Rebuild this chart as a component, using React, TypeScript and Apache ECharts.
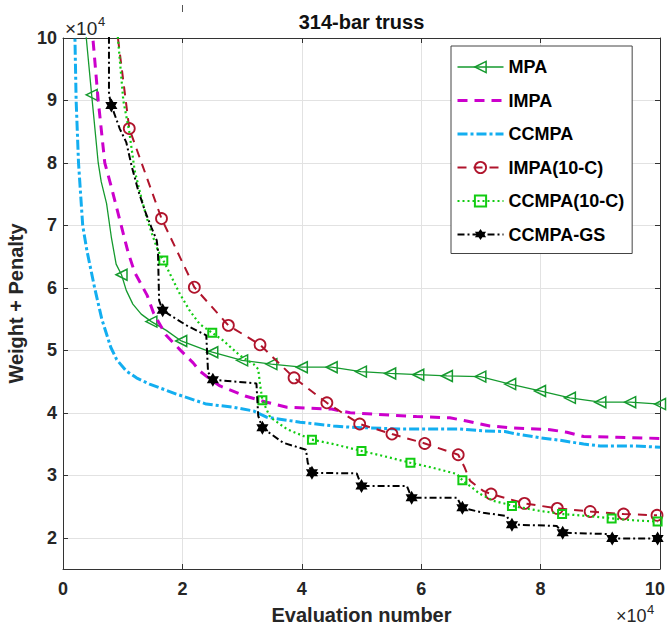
import React, { useEffect, useRef } from 'react';
import * as echarts from 'echarts';

const TITLE = '314-bar truss';
const X_NAME = 'Evaluation number';
const Y_NAME = 'Weight + Penalty';
const NAMES = ['MPA', 'IMPA', 'CCMPA', 'IMPA(10-C)', 'CCMPA(10-C)', 'CCMPA-GS'];
const COLORS = ['#159a2e', '#cc00cc', '#13aef0', '#b0142c', '#12cc12', '#000000'];

// values in units of 1e4 (as displayed on the axes)
// MPA
const mpaPathX = [0.37, 0.39, 0.59, 0.64, 0.73, 0.81, 0.89, 1.06, 1.17, 1.31, 1.73, 2.4];
const mpaPathY = [10.5, 10.0, 8.0, 7.7, 7.35, 6.81, 6.38, 5.96, 5.74, 5.58, 5.32, 5.0];
const mpaMarkX = [0.48, 0.98, 1.48, 1.98, 2.5, 3.0, 3.49, 4.0, 4.5, 4.99, 5.48, 5.95, 6.43, 6.99, 7.49, 7.99, 8.49, 9.0, 9.5, 10.0];
const mpaMarkY = [9.09, 6.21, 5.46, 5.15, 4.97, 4.84, 4.78, 4.73, 4.73, 4.66, 4.63, 4.61, 4.59, 4.58, 4.46, 4.35, 4.24, 4.17, 4.17, 4.14];

// IMPA
const impaX = [0.49, 0.5, 0.59, 0.7, 0.8, 0.94, 1.09, 1.2, 1.41, 1.52, 1.72, 1.97, 2.18, 2.29, 2.45, 2.63, 3.05, 3.41, 3.75, 4.5, 4.81, 5.92, 6.48, 6.76, 7.15, 7.49, 8.16, 8.44, 8.72, 9.28, 10.0];
const impaY = [10.5, 10.0, 9.0, 8.0, 7.65, 7.13, 6.57, 6.25, 5.88, 5.59, 5.25, 5.0, 4.8, 4.67, 4.55, 4.43, 4.27, 4.17, 4.09, 4.06, 4.0, 3.94, 3.92, 3.87, 3.79, 3.76, 3.73, 3.69, 3.62, 3.61, 3.59];

// CCMPA
const ccX = [0.19, 0.2, 0.22, 0.26, 0.33, 0.4, 0.53, 0.65, 0.8, 0.9, 1.06, 1.23, 1.45, 1.9, 2.4, 2.85, 3.19, 3.41, 3.97, 4.53, 4.81, 5.64, 6.65, 7.04, 7.4, 7.6, 8.0, 8.33, 8.72, 9.0, 9.56, 10.0];
const ccY = [10.5, 10.0, 9.0, 8.0, 7.0, 6.6, 6.0, 5.5, 5.05, 4.85, 4.67, 4.56, 4.46, 4.3, 4.14, 4.09, 4.03, 3.93, 3.85, 3.79, 3.77, 3.74, 3.74, 3.71, 3.7, 3.66, 3.6, 3.56, 3.5, 3.47, 3.47, 3.45];

// IMPA(10-C)
const i10PathX = [0.89, 0.92, 6.73, 6.82, 7.04];
const i10PathY = [10.5, 10.0, 3.12, 2.91, 2.75];
const i10MarkX = [1.11, 1.65, 2.2, 2.77, 3.3, 3.87, 4.42, 4.97, 5.51, 6.06, 6.62, 7.17, 7.73, 8.28, 8.83, 9.39, 9.95];
const i10MarkY = [8.55, 7.11, 6.01, 5.4, 5.09, 4.56, 4.16, 3.82, 3.66, 3.51, 3.33, 2.7, 2.55, 2.47, 2.42, 2.38, 2.36];

// CCMPA(10-C)
const c10PathX = [0.9, 0.92, 1.01, 1.11, 1.2, 1.31, 1.4, 1.51, 1.59, 1.82, 1.96, 2.12, 2.29, 2.68, 2.96, 3.19, 3.27, 3.3, 3.47, 3.75, 4.53, 5.36, 6.2, 6.6, 6.99, 7.21, 7.43, 7.99, 8.77, 9.55];
const c10PathY = [10.5, 10.0, 9.0, 8.5, 7.88, 7.45, 7.13, 6.81, 6.6, 6.17, 5.9, 5.64, 5.42, 5.16, 4.92, 4.78, 4.7, 4.46, 3.93, 3.74, 3.5, 3.31, 3.12, 3.02, 2.7, 2.59, 2.54, 2.43, 2.35, 2.28];
const c10MarkX = [1.68, 2.5, 3.34, 4.17, 5.0, 5.82, 6.69, 7.52, 8.36, 9.19, 9.96];
const c10MarkY = [6.44, 5.28, 4.2, 3.57, 3.39, 3.2, 2.92, 2.51, 2.38, 2.31, 2.26];

// CCMPA-GS
const gsPathX = [0.77, 0.77, 0.95, 1.06, 1.15, 1.26, 1.37, 1.48, 1.57, 1.59, 1.61, 1.9, 2.07, 2.4, 2.43, 3.24, 3.27, 3.69, 4.07, 4.1, 4.92, 5.76, 6.6, 7.04, 7.43, 8.27, 9.11];
const gsPathY = [10.5, 9.1, 8.55, 8.33, 7.95, 7.56, 7.24, 6.97, 6.76, 6.6, 5.8, 5.5, 5.4, 5.24, 4.65, 4.47, 3.95, 3.52, 3.41, 3.2, 3.03, 2.83, 2.64, 2.4, 2.35, 2.19, 2.06];
const gsMarkX = [0.81, 1.67, 2.51, 3.34, 4.17, 5.0, 5.84, 6.69, 7.52, 8.37, 9.2, 9.96];
const gsMarkY = [8.92, 5.64, 4.53, 3.76, 3.04, 2.83, 2.64, 2.48, 2.21, 2.08, 1.99, 1.99];

const X_TICKS = [0, 2, 4, 6, 8, 10];
const FONT = '"Liberation Sans", Arial, Helvetica, sans-serif';
const HEXAGRAM = 'path://M0,-10L8.66,5L-8.66,5Z M0,10L-8.66,-5L8.66,-5Z';

function build(px: number[], py: number[], mx: number[], my: number[]) {
  const pts: { x: number; y: number; m: boolean }[] = [];
  px.forEach((x, i) => pts.push({ x, y: py[i], m: false }));
  mx.forEach((x, i) => pts.push({ x, y: my[i], m: true }));
  pts.sort((a, b) => a.x - b.x || b.y - a.y);
  return pts.map((p) => (p.m ? { value: [p.x, p.y] } : { value: [p.x, p.y], symbol: 'none' }));
}

export default function App() {
  const ref = useRef<HTMLDivElement>(null);
  useEffect(() => {
    if (!ref.current) return;
    const chart = echarts.init(ref.current, null, { renderer: 'svg' });
    const axisColor = '#333333';
    const lineStyles: any[] = [
      { color: COLORS[0], width: 1.3, type: 'solid' },
      { color: COLORS[1], width: 3, type: [10, 7] },
      { color: COLORS[2], width: 3, type: [10, 3, 3, 3] },
      { color: COLORS[3], width: 2, type: [9, 7] },
      { color: COLORS[4], width: 2.2, type: [2, 3] },
      { color: COLORS[5], width: 2, type: [7, 3, 2, 3] },
    ];
    const itemStyles: any[] = [
      { color: 'transparent', borderColor: COLORS[0], borderWidth: 1.5 },
      { color: COLORS[1], opacity: 0 },
      { color: COLORS[2], opacity: 0 },
      { color: 'transparent', borderColor: COLORS[3], borderWidth: 1.8 },
      { color: 'transparent', borderColor: COLORS[4], borderWidth: 2 },
      { color: COLORS[5], borderColor: COLORS[5], borderWidth: 0 },
    ];
    const datas = [
      build(mpaPathX, mpaPathY, mpaMarkX, mpaMarkY),
      build(impaX, impaY, [], []),
      build(ccX, ccY, [], []),
      build(i10PathX, i10PathY, i10MarkX, i10MarkY),
      build(c10PathX, c10PathY, c10MarkX, c10MarkY),
      build(gsPathX, gsPathY, gsMarkX, gsMarkY),
    ];
    const symbols = ['triangle', 'none', 'none', 'circle', 'rect', HEXAGRAM];
    const sizes = [11, 0, 0, 11, 8, 14];
    const rotates = [90, 0, 0, 0, 0, 0];

    const series = NAMES.map((name, i) => ({
      name,
      type: 'line',
      data: datas[i],
      symbol: symbols[i],
      symbolSize: sizes[i],
      symbolRotate: rotates[i],
      symbolKeepAspect: true,
      showSymbol: true,
      showAllSymbol: true,
      clip: true,
      lineStyle: lineStyles[i],
      itemStyle: i === 1 || i === 2 ? { color: COLORS[i] } : itemStyles[i],
      emphasis: { disabled: true },
      z: 2 + i,
    }));

    const tickLabel = { fontSize: 18, fontWeight: 'bold', color: '#262626', fontFamily: FONT };
    const nameStyle = { fontSize: 20, fontWeight: 'bold', color: '#262626', fontFamily: FONT };
    const lastX = X_TICKS[X_TICKS.length - 1];

    chart.setOption({
      animation: false,
      backgroundColor: '#ffffff',
      title: {
        text: TITLE,
        left: 361.5,
        top: 12,
        padding: 0,
        textAlign: 'center',
        textStyle: { fontSize: 20, fontWeight: 'bold', color: '#111', fontFamily: FONT },
      },
      grid: { left: 63, top: 38, right: 7, bottom: 57, containLabel: false, outerBoundsMode: 'none' },
      legend: {
        orient: 'vertical',
        left: 451,
        top: 46,
        padding: [12, 8, 10, 5],
        itemGap: 15.5,
        itemWidth: 46,
        itemHeight: 14,
        selectedMode: false,
        backgroundColor: '#ffffff',
        borderColor: '#444444',
        borderWidth: 1,
        borderRadius: 0,
        textStyle: { fontSize: 18, fontWeight: 'bold', color: '#000', fontFamily: FONT, lineHeight: 18 },
        data: NAMES.map((name, i) => ({
          name,
          lineStyle: lineStyles[i],
          itemStyle: itemStyles[i],
        })),
      },
      xAxis: [
        {
          type: 'value',
          min: 0,
          max: 10,
          interval: 2,
          position: 'bottom',
          name: X_NAME,
          nameLocation: 'middle',
          nameGap: 36,
          nameTextStyle: nameStyle,
          axisLine: { show: true, onZero: false, lineStyle: { color: axisColor, width: 1 } },
          axisTick: { show: true, inside: true, length: 5, lineStyle: { color: axisColor } },
          axisLabel: {
            ...tickLabel,
            margin: 11,
            formatter: (v: number) => (v === lastX ? '{r|' + v + '}' : X_TICKS.includes(v) ? String(v) : ''),
            rich: { r: { ...tickLabel, padding: [0, 10, 0, 0] } },
          },
          splitLine: { show: true, lineStyle: { color: '#e2e2e2', width: 1 } },
        },
        {
          type: 'value',
          min: 0,
          max: 10,
          interval: 2,
          position: 'top',
          axisLine: { show: true, onZero: false, lineStyle: { color: axisColor, width: 1 } },
          axisTick: { show: true, inside: true, length: 5, lineStyle: { color: axisColor } },
          axisLabel: { show: false },
          splitLine: { show: false },
        },
      ],
      yAxis: [
        {
          type: 'value',
          min: 1.5,
          max: 10,
          splitNumber: 9,
          minInterval: 1,
          maxInterval: 1,
          position: 'left',
          name: Y_NAME,
          nameLocation: 'middle',
          nameGap: 33,
          nameTextStyle: nameStyle,
          axisLine: { show: true, onZero: false, lineStyle: { color: axisColor, width: 1 } },
          axisTick: { show: true, inside: true, length: 5, lineStyle: { color: axisColor } },
          axisLabel: { ...tickLabel, margin: 6, formatter: (v: number) => (Number.isInteger(v) ? String(v) : '') },
          splitLine: { show: true, lineStyle: { color: '#e2e2e2', width: 1 } },
        },
        {
          type: 'value',
          min: 1.5,
          max: 10,
          splitNumber: 9,
          minInterval: 1,
          maxInterval: 1,
          position: 'right',
          axisLine: { show: true, onZero: false, lineStyle: { color: axisColor, width: 1 } },
          axisTick: { show: true, inside: true, length: 5, lineStyle: { color: axisColor } },
          axisLabel: { show: false },
          splitLine: { show: false },
        },
      ],
      graphic: [
        { type: 'text', x: 65, y: 28, style: { text: '×10', fill: '#262626', font: '19px ' + FONT, align: 'left', verticalAlign: 'middle' } },
        { type: 'text', x: 98, y: 21.5, style: { text: '4', fill: '#262626', font: '13px ' + FONT, align: 'left', verticalAlign: 'middle' } },
        { type: 'text', x: 616, y: 616, style: { text: '×10', fill: '#262626', font: '18px ' + FONT, align: 'left', verticalAlign: 'middle' } },
        { type: 'text', x: 647, y: 609, style: { text: '4', fill: '#262626', font: '13px ' + FONT, align: 'left', verticalAlign: 'middle' } },
        { type: 'line', shape: { x1: 182.5, y1: 5, x2: 182.5, y2: 12 }, style: { stroke: '#555', lineWidth: 1 } },
      ],
      series,
    });
    return () => chart.dispose();
  }, []);
  return <div ref={ref} style={{ position: 'fixed', left: 0, top: 0, width: 667, height: 626 }} />;
}
